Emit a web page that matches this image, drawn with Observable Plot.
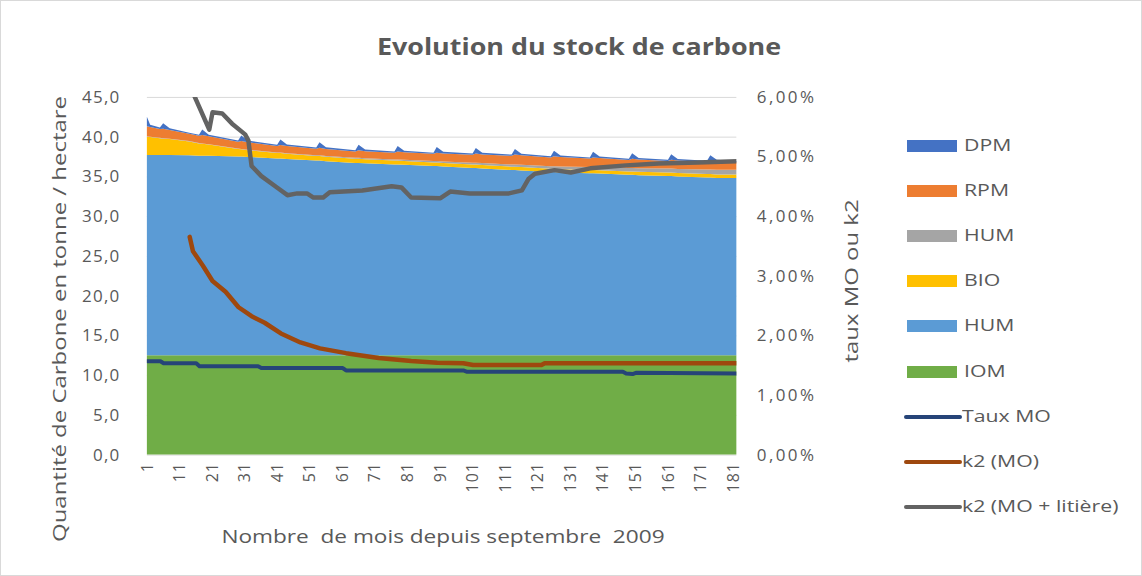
<!DOCTYPE html>
<html>
<head>
<meta charset="utf-8">
<script src="https://cdn.jsdelivr.net/npm/d3@7"></script>
<script src="https://cdn.jsdelivr.net/npm/@observablehq/plot@0.6"></script>
<style>
  html, body { margin: 0; padding: 0; background: #fff; }
  #wrap { position: relative; width: 1140px; height: 574px; border: 1px solid #d9d9d9; overflow: hidden; font-family: "Open Sans", sans-serif; color: #595959; }
  #chart { position: absolute; left: -1px; top: -1px; }
  .abs { position: absolute; white-space: pre; }
  .title { left: 0; width: 1156px; text-align: center; top: 28px; font-size: 24px; font-weight: bold; color: #595959; transform: scaleX(1.12); }
  .ylab { font-size: 19px; transform: translate(-50%, -50%) rotate(-90deg) scaleX(1.26); }
  .xlab { font-size: 19px; transform: translateX(-50%) scaleX(1.19); }
  .leg { font-size: 17px; color: #595959; transform-origin: 0 50%; transform: scaleX(1.25); }
  .sw { position: absolute; }
</style>
</head>
<body>
<div id="wrap">
  <div id="chart"></div>
</div>
<script>
// ---- Data ----
// Stacked areas (tonnes C / ha), months since September 2009
const months = [1,2,5,6,8,14,17,18,20,29,30,32,41,42,44,53,54,56,65,66,68,77,78,80,89,90,92,101,102,104,113,114,116,125,126,128,137,138,140,149,150,152,161,162,164,173,174,176,182];
const IOM  = [12.5,12.5,12.5,12.5,12.5,12.5,12.5,12.5,12.5,12.5,12.5,12.5,12.5,12.5,12.5,12.5,12.5,12.5,12.5,12.5,12.5,12.5,12.5,12.5,12.5,12.5,12.5,12.5,12.5,12.5,12.5,12.5,12.5,12.5,12.5,12.5,12.5,12.5,12.5,12.5,12.5,12.5,12.5,12.5,12.5,12.5,12.5,12.5,12.5];
const HUMb = [25.2,25.2,25.2,25.2,25.2,25.15,25.1,25.1,25.1,25.0,25.0,24.95,24.75,24.75,24.7,24.5,24.5,24.4,24.2,24.2,24.15,24.0,24.0,23.95,23.8,23.8,23.75,23.55,23.55,23.5,23.3,23.3,23.25,23.05,23.05,23.0,22.9,22.9,22.85,22.7,22.7,22.65,22.55,22.55,22.5,22.35,22.35,22.3,22.3];
const BIO  = [2.3,2.25,2.1,2.05,2.0,1.75,1.55,1.5,1.4,0.95,0.9,0.85,0.7,0.68,0.65,0.58,0.57,0.56,0.52,0.52,0.5,0.49,0.49,0.48,0.46,0.46,0.45,0.45,0.45,0.44,0.42,0.42,0.42,0.4,0.4,0.4,0.41,0.41,0.41,0.42,0.42,0.42,0.43,0.43,0.43,0.44,0.44,0.45,0.45];
const HUMg = [0.05,0.05,0.05,0.05,0.05,0.05,0.05,0.05,0.05,0.06,0.06,0.06,0.07,0.07,0.07,0.09,0.09,0.1,0.12,0.12,0.12,0.14,0.14,0.15,0.18,0.18,0.19,0.22,0.22,0.23,0.27,0.27,0.28,0.32,0.32,0.33,0.38,0.38,0.39,0.45,0.45,0.46,0.5,0.5,0.51,0.57,0.57,0.58,0.6];
const RPM  = [1.25,1.2,1.1,1.2,1.1,0.9,0.9,1.05,1.0,0.85,1.0,0.95,0.8,0.95,0.9,0.8,0.95,0.9,0.8,0.95,0.9,0.85,1.0,0.95,0.9,1.05,1.0,1.0,1.15,1.1,1.1,1.25,1.2,1.1,1.25,1.2,1.05,1.2,1.15,1.0,1.15,1.1,0.95,1.1,1.05,0.95,1.1,1.05,0.95];
const DPM  = [1.2,0.3,0.2,0.7,0.2,0.15,0.15,0.7,0.2,0.15,0.7,0.2,0.15,0.7,0.2,0.15,0.7,0.2,0.15,0.7,0.2,0.15,0.7,0.2,0.15,0.7,0.2,0.15,0.7,0.2,0.15,0.7,0.2,0.15,0.7,0.2,0.15,0.7,0.2,0.15,0.7,0.2,0.15,0.7,0.2,0.15,0.7,0.2,0.15];

// Lines (percent, right axis)
const tauxMonths = [1,5,6,16,17,35,36,61,62,98,99,147,148,150,151,182];
const tauxMO     = [1.575,1.575,1.54,1.54,1.49,1.49,1.46,1.46,1.42,1.42,1.40,1.40,1.37,1.36,1.38,1.37];
const k2Months   = [14,15,18,21,25,29,33,37,42,48,54,62,72,82,90,98,101,122,123,182];
const k2MO       = [3.66,3.42,3.18,2.92,2.74,2.48,2.33,2.22,2.04,1.89,1.79,1.71,1.63,1.58,1.55,1.54,1.51,1.51,1.54,1.54];
const k2LitMonths = [14,20,21,24,27,31,32,33,36,41,44,47,50,52,55,57,67,76,79,82,91,94,100,112,116,118,120,126,131,137,148,158,170,182];
const k2Lit       = [6.2,5.46,5.75,5.73,5.56,5.38,5.28,4.85,4.68,4.48,4.36,4.39,4.39,4.32,4.32,4.41,4.44,4.51,4.49,4.32,4.31,4.42,4.39,4.39,4.44,4.63,4.72,4.78,4.74,4.81,4.86,4.89,4.91,4.93];

// Axes
const leftTicks = [0,5,10,15,20,25,30,35,40,45];
const rightTicksPct = [0,1,2,3,4,5,6];
const xTicks = [1,11,21,31,41,51,61,71,81,91,101,111,121,131,141,151,161,171,181];

// Legend / series
const layerKeys   = ["IOM","HUM_bleu","BIO","HUM_gris","RPM","DPM"];
const layerColors = ["#70AD47","#5B9BD5","#FFC000","#A5A5A5","#ED7D31","#4472C4"];
const layerArrays = [IOM, HUMb, BIO, HUMg, RPM, DPM];
const legendAreas = [["DPM","#4472C4"],["RPM","#ED7D31"],["HUM","#A5A5A5"],["BIO","#FFC000"],["HUM","#5B9BD5"],["IOM","#70AD47"]];
const legendLines = [["Taux MO","#264478"],["k2 (MO)","#9E480E"],["k2 (MO + litière)","#636363"]];

// ---- Build tables ----
const stackData = [];
months.forEach((m, i) => layerKeys.forEach((k, j) => stackData.push({month: m, layer: k, value: layerArrays[j][i]})));
const scaleR = 45 / 6;
const mk = (ms, vs) => ms.map((m, i) => ({month: m, pct: vs[i]}));

const fontTick = "Open Sans, sans-serif";
const plot = Plot.plot({
  width: 1142,
  height: 576,
  marginLeft: 147,
  marginRight: 405,
  marginTop: 97,
  marginBottom: 121,
  style: {fontFamily: fontTick, fontSize: "16px", color: "#595959", background: "transparent"},
  x: {domain: [1, 182]},
  y: {domain: [0, 45]},
  color: {domain: layerKeys, range: layerColors},
  marks: [
    Plot.ruleY(leftTicks, {stroke: "#d9d9d9", strokeWidth: 1}),
    Plot.areaY(stackData, Plot.stackY({x: "month", y: "value", fill: "layer", order: layerKeys})),
    Plot.line(mk(tauxMonths, tauxMO), {x: "month", y: d => d.pct * scaleR, stroke: "#264478", strokeWidth: 4, clip: true}),
    Plot.line(mk(k2Months, k2MO), {x: "month", y: d => d.pct * scaleR, stroke: "#9E480E", strokeWidth: 4.5, clip: true}),
    Plot.line(mk(k2LitMonths, k2Lit), {x: "month", y: d => d.pct * scaleR, stroke: "#636363", strokeWidth: 4.5, clip: true}),
    Plot.axisY({ticks: leftTicks, tickSize: 0, tickPadding: 27, label: null, tickFormat: d => d.toFixed(1).replace(".", ","), fontSize: 17}),
    Plot.axisY({anchor: "right", ticks: rightTicksPct.map(p => p * scaleR), tickSize: 0, tickPadding: 20, label: null,
      tickFormat: d => (d / scaleR).toFixed(2).replace(".", ",") + "%", fontSize: 17}),
    Plot.axisX({ticks: xTicks, tickSize: 0, tickPadding: 7, tickRotate: -90, label: null, tickFormat: d => String(d), fontSize: 16})
  ]
});
document.getElementById("chart").appendChild(plot);

// widen tick labels to match the reference's wide glyphs
const yAxes = d3.select(plot).selectAll('g[aria-label="y-axis tick label"]');
yAxes.each(function(_, i) {
  d3.select(this).attr("letter-spacing", i === 0 ? "1.2px" : "2.4px");
});
d3.select(plot).selectAll('g[aria-label="x-axis tick label"]').attr("letter-spacing", "1px");

// ---- Text overlays ----
const wrap = document.getElementById("wrap");
function addDiv(cls, text, css) {
  const d = document.createElement("div");
  d.className = "abs " + cls;
  d.textContent = text;
  Object.assign(d.style, css);
  wrap.appendChild(d);
  return d;
}
addDiv("title", "Evolution du stock de carbone", {});
addDiv("ylab", "Quantité de Carbone en tonne / hectare", {left: "58px", top: "318px"});
addDiv("ylab", "taux MO ou k2", {left: "850px", top: "280px"});
addDiv("xlab", "Nombre  de mois depuis septembre  2009", {left: "442px", top: "522px"});

const legY0 = 145, legStep = 45.1;
legendAreas.forEach(([name, col], i) => {
  const y = legY0 + i * legStep;
  const s = document.createElement("div");
  s.className = "sw";
  Object.assign(s.style, {left: "906px", top: (y - 6) + "px", width: "50px", height: "12px", background: col});
  wrap.appendChild(s);
  addDiv("leg", name, {left: "963px", top: (y - 13) + "px"});
});
legendLines.forEach(([name, col], i) => {
  const y = legY0 + (i + 6) * legStep;
  const s = document.createElement("div");
  s.className = "sw";
  Object.assign(s.style, {left: "903px", top: (y - 2) + "px", width: "58px", height: "4px", background: col, borderRadius: "2px"});
  wrap.appendChild(s);
  addDiv("leg", name, {left: "961px", top: (y - 13) + "px"});
});
</script>
</body>
</html>
